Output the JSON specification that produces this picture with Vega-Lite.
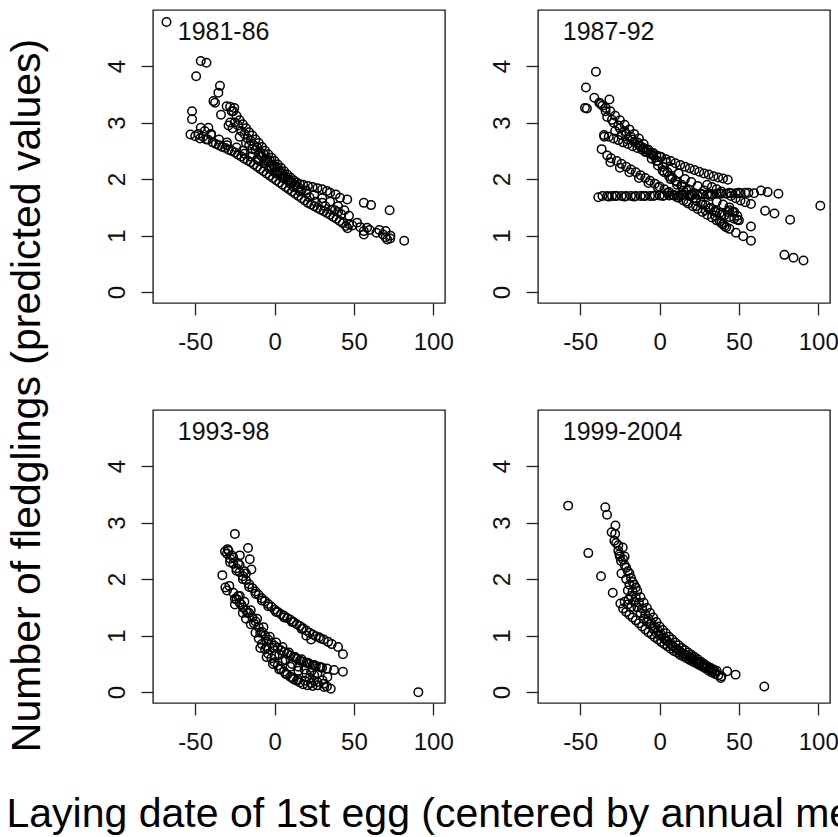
{
 "$schema": "https://vega.github.io/schema/vega-lite/v6.json",
 "background": "white",
 "padding": {"left": 5, "top": 9, "right": 0, "bottom": 0},
 "autosize": {"type": "pad"},
 "bounds": "flush",
 "columns": 2,
 "spacing": {"row": 107, "column": 93},
 "config": {
  "font": "Liberation Sans",
  "view": {"stroke": "#222", "strokeWidth": 1.4},
  "axis": {"domain": false, "grid": false, "ticks": true, "tickSize": 12, "tickColor": "#222", "tickWidth": 1.3,
   "labelFont": "Liberation Sans", "labelFontSize": 24, "labelColor": "#111", "labelOverlap": false, "labelFlush": false,
   "titleFont": "Liberation Sans", "titleFontWeight": "normal", "titleColor": "#000", "titleFontSize": 41, "titleLimit": 3000},
  "axisX": {"labelAngle": 0, "labelAlign": "center", "labelBaseline": "top", "labelPadding": 15},
  "axisY": {"labelAngle": 270, "labelAlign": "center", "labelBaseline": "bottom", "labelPadding": 12}
 },
 "datasets": {
  "labs": [
   {"panel": "1981-86", "lx": -61, "ly": 4.6, "label": "1981-86"},
   {"panel": "1987-92", "lx": -61, "ly": 4.6, "label": "1987-92"},
   {"panel": "1993-98", "lx": -61, "ly": 4.6, "label": "1993-98"},
   {"panel": "1999-2004", "lx": -61, "ly": 4.6, "label": "1999-2004"}
  ],
  "pts": [
   {"panel":"1981-86","x":-68.1,"y":4.78},{"panel":"1981-86","x":-49.4,"y":3.82},{"panel":"1981-86","x":-46.5,"y":4.09},{"panel":"1981-86","x":-42.9,"y":4.06},
   {"panel":"1981-86","x":-52,"y":3.2},{"panel":"1981-86","x":-52,"y":3.06},{"panel":"1981-86","x":-53,"y":2.79},{"panel":"1981-86","x":-50,"y":2.76},
   {"panel":"1981-86","x":-46.5,"y":2.91},{"panel":"1981-86","x":-41.7,"y":2.91},{"panel":"1981-86","x":-44,"y":2.85},{"panel":"1981-86","x":-40,"y":2.8},
   {"panel":"1981-86","x":-47,"y":2.72},{"panel":"1981-86","x":-43,"y":2.7},{"panel":"1981-86","x":-34.4,"y":3.65},{"panel":"1981-86","x":-35.4,"y":3.53},
   {"panel":"1981-86","x":-38.5,"y":3.38},{"panel":"1981-86","x":-37.5,"y":3.35},{"panel":"1981-86","x":-33.75,"y":3.14},{"panel":"1981-86","x":-30.2,"y":3.29},
   {"panel":"1981-86","x":-25.4,"y":3.26},{"panel":"1981-86","x":-27,"y":3.2},{"panel":"1981-86","x":-28,"y":3.0},{"panel":"1981-86","x":-29,"y":2.95},{"panel":"1981-86","x":-26.5,"y":2.9},
   {"panel":"1981-86","x":-48,"y":2.8},{"panel":"1981-86","x":-45,"y":2.75},{"panel":"1981-86","x":-42,"y":2.7},{"panel":"1981-86","x":-39,"y":2.65},{"panel":"1981-86","x":-37,"y":2.62},
   {"panel":"1981-86","x":-35,"y":2.6},{"panel":"1981-86","x":-33,"y":2.57},{"panel":"1981-86","x":-31,"y":2.55},{"panel":"1981-86","x":-29,"y":2.52},{"panel":"1981-86","x":-27,"y":2.5},
   {"panel":"1981-86","x":-25,"y":2.47},{"panel":"1981-86","x":-23,"y":2.43},{"panel":"1981-86","x":-21,"y":2.4},{"panel":"1981-86","x":-19,"y":2.36},{"panel":"1981-86","x":-17,"y":2.33},
   {"panel":"1981-86","x":-15,"y":2.3},{"panel":"1981-86","x":-13,"y":2.26},{"panel":"1981-86","x":-11,"y":2.22},{"panel":"1981-86","x":-9,"y":2.18},{"panel":"1981-86","x":-7,"y":2.14},
   {"panel":"1981-86","x":-5,"y":2.1},{"panel":"1981-86","x":-3,"y":2.06},{"panel":"1981-86","x":-1,"y":2.02},{"panel":"1981-86","x":1,"y":1.98},{"panel":"1981-86","x":3,"y":1.94},
   {"panel":"1981-86","x":5,"y":1.9},{"panel":"1981-86","x":7,"y":1.86},{"panel":"1981-86","x":9,"y":1.82},{"panel":"1981-86","x":11,"y":1.78},{"panel":"1981-86","x":13,"y":1.74},
   {"panel":"1981-86","x":15,"y":1.7},{"panel":"1981-86","x":17,"y":1.66},{"panel":"1981-86","x":19,"y":1.62},{"panel":"1981-86","x":21,"y":1.58},{"panel":"1981-86","x":23,"y":1.55},
   {"panel":"1981-86","x":25,"y":1.52},{"panel":"1981-86","x":27,"y":1.49},{"panel":"1981-86","x":29,"y":1.46},{"panel":"1981-86","x":31,"y":1.43},{"panel":"1981-86","x":33,"y":1.4},
   {"panel":"1981-86","x":35,"y":1.37},{"panel":"1981-86","x":37,"y":1.33},{"panel":"1981-86","x":39,"y":1.3},{"panel":"1981-86","x":41,"y":1.26},{"panel":"1981-86","x":43,"y":1.22},
   {"panel":"1981-86","x":45,"y":1.17},{"panel":"1981-86","x":46,"y":1.13},
   {"panel":"1981-86","x":-40,"y":2.78},{"panel":"1981-86","x":-30,"y":2.65},{"panel":"1981-86","x":-20,"y":2.5},{"panel":"1981-86","x":-10,"y":2.33},{"panel":"1981-86","x":0,"y":2.12},
   {"panel":"1981-86","x":10,"y":1.95},{"panel":"1981-86","x":20,"y":1.75},{"panel":"1981-86","x":30,"y":1.58},{"panel":"1981-86","x":40,"y":1.42},
   {"panel":"1981-86","x":-28,"y":3.28},{"panel":"1981-86","x":-26,"y":3.2},{"panel":"1981-86","x":-24,"y":3.12},{"panel":"1981-86","x":-22,"y":3.04},{"panel":"1981-86","x":-20,"y":2.97},
   {"panel":"1981-86","x":-18,"y":2.9},{"panel":"1981-86","x":-16,"y":2.83},{"panel":"1981-86","x":-14,"y":2.77},{"panel":"1981-86","x":-12,"y":2.7},{"panel":"1981-86","x":-10,"y":2.64},
   {"panel":"1981-86","x":-8,"y":2.57},{"panel":"1981-86","x":-6,"y":2.5},{"panel":"1981-86","x":-4,"y":2.44},{"panel":"1981-86","x":-2,"y":2.38},{"panel":"1981-86","x":0,"y":2.32},
   {"panel":"1981-86","x":2,"y":2.26},{"panel":"1981-86","x":4,"y":2.2},{"panel":"1981-86","x":6,"y":2.14},{"panel":"1981-86","x":8,"y":2.08},{"panel":"1981-86","x":10,"y":2.03},
   {"panel":"1981-86","x":12,"y":1.98},{"panel":"1981-86","x":14,"y":1.94},{"panel":"1981-86","x":16,"y":1.91},
   {"panel":"1981-86","x":-25,"y":3.0},{"panel":"1981-86","x":-21,"y":2.85},{"panel":"1981-86","x":-17,"y":2.72},{"panel":"1981-86","x":-13,"y":2.6},{"panel":"1981-86","x":-9,"y":2.47},
   {"panel":"1981-86","x":-5,"y":2.36},{"panel":"1981-86","x":-1,"y":2.25},{"panel":"1981-86","x":3,"y":2.14},{"panel":"1981-86","x":7,"y":2.04},{"panel":"1981-86","x":11,"y":1.94},{"panel":"1981-86","x":15,"y":1.86},
   {"panel":"1981-86","x":-22,"y":2.75},{"panel":"1981-86","x":-18,"y":2.64},{"panel":"1981-86","x":-14,"y":2.53},{"panel":"1981-86","x":-10,"y":2.44},{"panel":"1981-86","x":-6,"y":2.33},
   {"panel":"1981-86","x":-2,"y":2.22},{"panel":"1981-86","x":2,"y":2.12},{"panel":"1981-86","x":6,"y":2.02},{"panel":"1981-86","x":10,"y":1.92},
   {"panel":"1981-86","x":-19,"y":2.45},{"panel":"1981-86","x":-15,"y":2.4},{"panel":"1981-86","x":-11,"y":2.35},{"panel":"1981-86","x":-7,"y":2.28},{"panel":"1981-86","x":-3,"y":2.18},
   {"panel":"1981-86","x":1,"y":2.1},{"panel":"1981-86","x":5,"y":2.02},{"panel":"1981-86","x":9,"y":1.96},{"panel":"1981-86","x":13,"y":1.88},{"panel":"1981-86","x":17,"y":1.8},
   {"panel":"1981-86","x":-16,"y":2.6},{"panel":"1981-86","x":-12,"y":2.52},{"panel":"1981-86","x":-8,"y":2.4},{"panel":"1981-86","x":-4,"y":2.3},{"panel":"1981-86","x":0,"y":2.2},
   {"panel":"1981-86","x":4,"y":2.1},{"panel":"1981-86","x":8,"y":1.98},{"panel":"1981-86","x":12,"y":1.86},{"panel":"1981-86","x":16,"y":1.78},{"panel":"1981-86","x":-30,"y":2.6},
   {"panel":"1981-86","x":-35,"y":2.7},{"panel":"1981-86","x":-24,"y":2.56},{"panel":"1981-86","x":22,"y":1.68},{"panel":"1981-86","x":26,"y":1.6},{"panel":"1981-86","x":32,"y":1.52},
   {"panel":"1981-86","x":36,"y":1.46},{"panel":"1981-86","x":-19,"y":2.8},{"panel":"1981-86","x":-23,"y":2.95},{"panel":"1981-86","x":-15,"y":2.68},{"panel":"1981-86","x":-11,"y":2.56},
   {"panel":"1981-86","x":-7,"y":2.45},{"panel":"1981-86","x":-3,"y":2.33},{"panel":"1981-86","x":1,"y":2.22},{"panel":"1981-86","x":5,"y":2.1},{"panel":"1981-86","x":9,"y":1.99},{"panel":"1981-86","x":13,"y":1.9},
   {"panel":"1981-86","x":18,"y":1.9},{"panel":"1981-86","x":21,"y":1.88},{"panel":"1981-86","x":24,"y":1.86},{"panel":"1981-86","x":27,"y":1.84},{"panel":"1981-86","x":30,"y":1.82},
   {"panel":"1981-86","x":33,"y":1.79},{"panel":"1981-86","x":35,"y":1.76},{"panel":"1981-86","x":38.5,"y":1.73},{"panel":"1981-86","x":41.25,"y":1.67},{"panel":"1981-86","x":45.8,"y":1.64},
   {"panel":"1981-86","x":56.25,"y":1.58},{"panel":"1981-86","x":60.8,"y":1.54},{"panel":"1981-86","x":72.5,"y":1.45},
   {"panel":"1981-86","x":20,"y":1.8},{"panel":"1981-86","x":25,"y":1.72},{"panel":"1981-86","x":30,"y":1.66},{"panel":"1981-86","x":35,"y":1.6},{"panel":"1981-86","x":40,"y":1.52},
   {"panel":"1981-86","x":44,"y":1.45},{"panel":"1981-86","x":38,"y":1.45},{"panel":"1981-86","x":46.9,"y":1.35},{"panel":"1981-86","x":42,"y":1.38},
   {"panel":"1981-86","x":47,"y":1.2},{"panel":"1981-86","x":49,"y":1.18},{"panel":"1981-86","x":52,"y":1.23},{"panel":"1981-86","x":54,"y":1.15},{"panel":"1981-86","x":56.25,"y":1.08},
   {"panel":"1981-86","x":56.25,"y":1.02},{"panel":"1981-86","x":58.3,"y":1.14},{"panel":"1981-86","x":60,"y":1.1},{"panel":"1981-86","x":64.2,"y":1.05},{"panel":"1981-86","x":66,"y":1.1},
   {"panel":"1981-86","x":68.3,"y":1.02},{"panel":"1981-86","x":70,"y":1.08},{"panel":"1981-86","x":70,"y":0.97},{"panel":"1981-86","x":71,"y":0.93},{"panel":"1981-86","x":72.9,"y":0.95},
   {"panel":"1981-86","x":73,"y":1.0},{"panel":"1981-86","x":81.7,"y":0.91},

   {"panel":"1987-92","x":-40.1,"y":3.9},{"panel":"1987-92","x":-46.4,"y":3.62},{"panel":"1987-92","x":-47,"y":3.26},{"panel":"1987-92","x":-45.8,"y":3.25},{"panel":"1987-92","x":-41.1,"y":3.44},
   {"panel":"1987-92","x":-31.6,"y":3.41},{"panel":"1987-92","x":-36.5,"y":2.53},{"panel":"1987-92","x":-38.6,"y":1.68},{"panel":"1987-92","x":-30.6,"y":2.37},{"panel":"1987-92","x":-34.8,"y":2.75},
   {"panel":"1987-92","x":-38,"y":3.35},{"panel":"1987-92","x":-36,"y":3.3},{"panel":"1987-92","x":-34,"y":3.2},
   {"panel":"1987-92","x":-37,"y":3.33},{"panel":"1987-92","x":-34,"y":3.26},{"panel":"1987-92","x":-31,"y":3.2},{"panel":"1987-92","x":-28,"y":3.12},{"panel":"1987-92","x":-25,"y":3.04},
   {"panel":"1987-92","x":-22,"y":2.96},{"panel":"1987-92","x":-19,"y":2.88},{"panel":"1987-92","x":-16,"y":2.8},{"panel":"1987-92","x":-13,"y":2.72},{"panel":"1987-92","x":-10,"y":2.62},
   {"panel":"1987-92","x":-7,"y":2.52},{"panel":"1987-92","x":-4,"y":2.42},{"panel":"1987-92","x":-1,"y":2.32},{"panel":"1987-92","x":2,"y":2.22},{"panel":"1987-92","x":5,"y":2.12},
   {"panel":"1987-92","x":8,"y":2.03},{"panel":"1987-92","x":11,"y":1.95},{"panel":"1987-92","x":14,"y":1.87},{"panel":"1987-92","x":17,"y":1.8},{"panel":"1987-92","x":20,"y":1.73},
   {"panel":"1987-92","x":23,"y":1.66},{"panel":"1987-92","x":26,"y":1.6},{"panel":"1987-92","x":29,"y":1.54},{"panel":"1987-92","x":32,"y":1.49},{"panel":"1987-92","x":35,"y":1.44},
   {"panel":"1987-92","x":38,"y":1.4},{"panel":"1987-92","x":41,"y":1.36},{"panel":"1987-92","x":44,"y":1.33},{"panel":"1987-92","x":47,"y":1.3},{"panel":"1987-92","x":50,"y":1.27},
   {"panel":"1987-92","x":-33,"y":3.1},{"panel":"1987-92","x":-29,"y":3.0},{"panel":"1987-92","x":-25,"y":2.9},{"panel":"1987-92","x":-21,"y":2.8},{"panel":"1987-92","x":-17,"y":2.7},
   {"panel":"1987-92","x":-13,"y":2.6},{"panel":"1987-92","x":-9,"y":2.48},{"panel":"1987-92","x":-5,"y":2.36},{"panel":"1987-92","x":-1,"y":2.24},{"panel":"1987-92","x":3,"y":2.12},
   {"panel":"1987-92","x":7,"y":2.0},{"panel":"1987-92","x":11,"y":1.9},{"panel":"1987-92","x":15,"y":1.8},{"panel":"1987-92","x":19,"y":1.7},{"panel":"1987-92","x":23,"y":1.62},
   {"panel":"1987-92","x":27,"y":1.55},{"panel":"1987-92","x":31,"y":1.48},{"panel":"1987-92","x":35,"y":1.42},{"panel":"1987-92","x":39,"y":1.37},{"panel":"1987-92","x":43,"y":1.42},{"panel":"1987-92","x":46,"y":1.42},
   {"panel":"1987-92","x":-35,"y":2.78},{"panel":"1987-92","x":-32,"y":2.75},{"panel":"1987-92","x":-29,"y":2.72},{"panel":"1987-92","x":-26,"y":2.69},{"panel":"1987-92","x":-23,"y":2.65},
   {"panel":"1987-92","x":-20,"y":2.62},{"panel":"1987-92","x":-17,"y":2.58},{"panel":"1987-92","x":-14,"y":2.55},{"panel":"1987-92","x":-11,"y":2.52},{"panel":"1987-92","x":-8,"y":2.48},
   {"panel":"1987-92","x":-5,"y":2.45},{"panel":"1987-92","x":-2,"y":2.42},{"panel":"1987-92","x":1,"y":2.39},{"panel":"1987-92","x":4,"y":2.35},{"panel":"1987-92","x":7,"y":2.32},
   {"panel":"1987-92","x":10,"y":2.28},{"panel":"1987-92","x":13,"y":2.25},{"panel":"1987-92","x":16,"y":2.22},{"panel":"1987-92","x":19,"y":2.19},{"panel":"1987-92","x":22,"y":2.16},
   {"panel":"1987-92","x":25,"y":2.13},{"panel":"1987-92","x":28,"y":2.1},{"panel":"1987-92","x":31,"y":2.08},{"panel":"1987-92","x":34,"y":2.05},{"panel":"1987-92","x":37,"y":2.03},
   {"panel":"1987-92","x":40,"y":2.01},{"panel":"1987-92","x":43,"y":1.99},
   {"panel":"1987-92","x":-33,"y":2.42},{"panel":"1987-92","x":-27,"y":2.32},{"panel":"1987-92","x":-24,"y":2.27},{"panel":"1987-92","x":-21,"y":2.22},{"panel":"1987-92","x":-18,"y":2.17},
   {"panel":"1987-92","x":-15,"y":2.12},{"panel":"1987-92","x":-12,"y":2.07},{"panel":"1987-92","x":-9,"y":2.02},{"panel":"1987-92","x":-6,"y":1.97},{"panel":"1987-92","x":-3,"y":1.92},
   {"panel":"1987-92","x":0,"y":1.87},{"panel":"1987-92","x":3,"y":1.82},{"panel":"1987-92","x":6,"y":1.77},{"panel":"1987-92","x":9,"y":1.72},{"panel":"1987-92","x":12,"y":1.67},
   {"panel":"1987-92","x":15,"y":1.62},{"panel":"1987-92","x":18,"y":1.57},{"panel":"1987-92","x":21,"y":1.52},{"panel":"1987-92","x":24,"y":1.47},{"panel":"1987-92","x":27,"y":1.42},
   {"panel":"1987-92","x":30,"y":1.37},{"panel":"1987-92","x":33,"y":1.32},{"panel":"1987-92","x":36,"y":1.27},{"panel":"1987-92","x":39,"y":1.22},{"panel":"1987-92","x":41,"y":1.17},
   {"panel":"1987-92","x":44,"y":1.12},{"panel":"1987-92","x":48.1,"y":1.05},{"panel":"1987-92","x":52.7,"y":0.99},{"panel":"1987-92","x":57.6,"y":0.91},
   {"panel":"1987-92","x":-33,"y":1.7},{"panel":"1987-92","x":-30,"y":1.7},{"panel":"1987-92","x":-27,"y":1.7},{"panel":"1987-92","x":-24,"y":1.7},{"panel":"1987-92","x":-21,"y":1.7},
   {"panel":"1987-92","x":-18,"y":1.7},{"panel":"1987-92","x":-15,"y":1.7},{"panel":"1987-92","x":-12,"y":1.7},{"panel":"1987-92","x":-9,"y":1.7},{"panel":"1987-92","x":-6,"y":1.7},
   {"panel":"1987-92","x":-3,"y":1.71},{"panel":"1987-92","x":0,"y":1.71},{"panel":"1987-92","x":3,"y":1.71},{"panel":"1987-92","x":6,"y":1.71},{"panel":"1987-92","x":9,"y":1.71},
   {"panel":"1987-92","x":12,"y":1.71},{"panel":"1987-92","x":15,"y":1.72},{"panel":"1987-92","x":18,"y":1.72},{"panel":"1987-92","x":21,"y":1.72},{"panel":"1987-92","x":24,"y":1.72},
   {"panel":"1987-92","x":27,"y":1.73},{"panel":"1987-92","x":30,"y":1.73},{"panel":"1987-92","x":33,"y":1.73},{"panel":"1987-92","x":36,"y":1.74},{"panel":"1987-92","x":39,"y":1.74},
   {"panel":"1987-92","x":42,"y":1.74},{"panel":"1987-92","x":45,"y":1.75},{"panel":"1987-92","x":48,"y":1.75},{"panel":"1987-92","x":51,"y":1.75},{"panel":"1987-92","x":54,"y":1.76},{"panel":"1987-92","x":56,"y":1.76},
   {"panel":"1987-92","x":-36,"y":1.7},{"panel":"1987-92","x":-32,"y":1.69},{"panel":"1987-92","x":-28,"y":1.7},{"panel":"1987-92","x":-22,"y":1.69},{"panel":"1987-92","x":-16,"y":1.69},
   {"panel":"1987-92","x":-10,"y":1.7},{"panel":"1987-92","x":-4,"y":1.7},{"panel":"1987-92","x":2,"y":1.7},{"panel":"1987-92","x":8,"y":1.72},{"panel":"1987-92","x":14,"y":1.72},
   {"panel":"1987-92","x":20,"y":1.73},{"panel":"1987-92","x":26,"y":1.74},{"panel":"1987-92","x":32,"y":1.74},{"panel":"1987-92","x":38,"y":1.75},{"panel":"1987-92","x":44,"y":1.76},{"panel":"1987-92","x":50,"y":1.76},
   {"panel":"1987-92","x":-30,"y":3.05},{"panel":"1987-92","x":-26,"y":2.95},{"panel":"1987-92","x":-22,"y":2.85},{"panel":"1987-92","x":-18,"y":2.75},{"panel":"1987-92","x":-14,"y":2.65},
   {"panel":"1987-92","x":-10,"y":2.55},{"panel":"1987-92","x":-6,"y":2.45},{"panel":"1987-92","x":-2,"y":2.32},{"panel":"1987-92","x":2,"y":2.15},{"panel":"1987-92","x":6,"y":2.05},
   {"panel":"1987-92","x":10,"y":1.97},{"panel":"1987-92","x":14,"y":1.9},{"panel":"1987-92","x":18,"y":1.82},{"panel":"1987-92","x":22,"y":1.75},
   {"panel":"1987-92","x":-28,"y":2.85},{"panel":"1987-92","x":-24,"y":2.78},{"panel":"1987-92","x":-20,"y":2.7},{"panel":"1987-92","x":-16,"y":2.66},{"panel":"1987-92","x":-12,"y":2.58},
   {"panel":"1987-92","x":-8,"y":2.52},{"panel":"1987-92","x":-4,"y":2.46},{"panel":"1987-92","x":0,"y":2.4},{"panel":"1987-92","x":4,"y":2.3},{"panel":"1987-92","x":8,"y":2.2},
   {"panel":"1987-92","x":12,"y":2.1},{"panel":"1987-92","x":16,"y":2.0},{"panel":"1987-92","x":20,"y":1.95},{"panel":"1987-92","x":24,"y":1.88},{"panel":"1987-92","x":28,"y":1.8},
   {"panel":"1987-92","x":32,"y":1.7},{"panel":"1987-92","x":36,"y":1.6},{"panel":"1987-92","x":40,"y":1.55},{"panel":"1987-92","x":44,"y":1.5},
   {"panel":"1987-92","x":-31,"y":2.3},{"panel":"1987-92","x":-25,"y":2.2},{"panel":"1987-92","x":-19,"y":2.12},{"panel":"1987-92","x":-13,"y":2.02},{"panel":"1987-92","x":-7,"y":1.93},
   {"panel":"1987-92","x":-1,"y":1.85},{"panel":"1987-92","x":5,"y":1.76},{"panel":"1987-92","x":11,"y":1.68},{"panel":"1987-92","x":17,"y":1.6},{"panel":"1987-92","x":23,"y":1.52},
   {"panel":"1987-92","x":29,"y":1.45},{"panel":"1987-92","x":35,"y":1.35},
   {"panel":"1987-92","x":30,"y":1.9},{"panel":"1987-92","x":33,"y":1.86},{"panel":"1987-92","x":36,"y":1.82},{"panel":"1987-92","x":39,"y":1.78},{"panel":"1987-92","x":45,"y":1.7},
   {"panel":"1987-92","x":48,"y":1.66},{"panel":"1987-92","x":51,"y":1.62},{"panel":"1987-92","x":54,"y":1.59},{"panel":"1987-92","x":57.6,"y":1.56},{"panel":"1987-92","x":57.6,"y":1.16},
   {"panel":"1987-92","x":63.9,"y":1.8},{"panel":"1987-92","x":68.1,"y":1.77},{"panel":"1987-92","x":74.9,"y":1.74},{"panel":"1987-92","x":66.5,"y":1.44},{"panel":"1987-92","x":72.4,"y":1.39},
   {"panel":"1987-92","x":82.3,"y":1.28},{"panel":"1987-92","x":78.7,"y":0.66},{"panel":"1987-92","x":84.4,"y":0.61},{"panel":"1987-92","x":90.7,"y":0.56},{"panel":"1987-92","x":101.3,"y":1.53},
   {"panel":"1987-92","x":59.5,"y":1.75},{"panel":"1987-92","x":44,"y":1.45},{"panel":"1987-92","x":47,"y":1.42},{"panel":"1987-92","x":49,"y":1.35},{"panel":"1987-92","x":49,"y":1.28},
   {"panel":"1987-92","x":40,"y":1.2},{"panel":"1987-92","x":42,"y":1.15},{"panel":"1987-92","x":38,"y":1.25},

   {"panel":"1993-98","x":-25,"y":2.8},{"panel":"1993-98","x":-32.9,"y":2.07},{"panel":"1993-98","x":-29.6,"y":2.53},{"panel":"1993-98","x":-31.25,"y":2.49},{"panel":"1993-98","x":-16.7,"y":2.55},
   {"panel":"1993-98","x":-15.6,"y":2.35},{"panel":"1993-98","x":-14.6,"y":2.17},{"panel":"1993-98","x":-21.9,"y":2.42},{"panel":"1993-98","x":90.6,"y":0.0},
   {"panel":"1993-98","x":-30,"y":2.45},{"panel":"1993-98","x":-28,"y":2.36},{"panel":"1993-98","x":-26,"y":2.27},{"panel":"1993-98","x":-24,"y":2.19},{"panel":"1993-98","x":-22,"y":2.12},
   {"panel":"1993-98","x":-20,"y":2.05},{"panel":"1993-98","x":-18,"y":1.98},{"panel":"1993-98","x":-16,"y":1.91},{"panel":"1993-98","x":-14,"y":1.84},{"panel":"1993-98","x":-12,"y":1.78},
   {"panel":"1993-98","x":-10,"y":1.72},{"panel":"1993-98","x":-8,"y":1.66},{"panel":"1993-98","x":-6,"y":1.61},{"panel":"1993-98","x":-4,"y":1.56},{"panel":"1993-98","x":-2,"y":1.51},
   {"panel":"1993-98","x":0,"y":1.46},{"panel":"1993-98","x":2,"y":1.42},{"panel":"1993-98","x":4,"y":1.38},{"panel":"1993-98","x":6,"y":1.35},{"panel":"1993-98","x":8,"y":1.31},
   {"panel":"1993-98","x":10,"y":1.28},{"panel":"1993-98","x":12,"y":1.24},{"panel":"1993-98","x":14,"y":1.2},{"panel":"1993-98","x":16,"y":1.17},{"panel":"1993-98","x":18,"y":1.13},
   {"panel":"1993-98","x":20,"y":1.09},{"panel":"1993-98","x":22,"y":1.05},{"panel":"1993-98","x":24,"y":1.02},{"panel":"1993-98","x":26,"y":0.99},{"panel":"1993-98","x":28,"y":0.97},
   {"panel":"1993-98","x":31,"y":0.93},{"panel":"1993-98","x":33.75,"y":0.89},{"panel":"1993-98","x":36,"y":0.85},{"panel":"1993-98","x":40,"y":0.8},{"panel":"1993-98","x":43.1,"y":0.67},
   {"panel":"1993-98","x":29,"y":0.95},{"panel":"1993-98","x":23,"y":0.93},{"panel":"1993-98","x":20,"y":1.0},{"panel":"1993-98","x":-27,"y":2.42},{"panel":"1993-98","x":-23,"y":2.28},{"panel":"1993-98","x":-19,"y":2.14},
   {"panel":"1993-98","x":-28,"y":2.3},{"panel":"1993-98","x":-24,"y":2.15},{"panel":"1993-98","x":-20,"y":2.0},{"panel":"1993-98","x":-16,"y":1.86},{"panel":"1993-98","x":-12,"y":1.74},
   {"panel":"1993-98","x":-8,"y":1.62},{"panel":"1993-98","x":-4,"y":1.52},{"panel":"1993-98","x":1,"y":1.42},{"panel":"1993-98","x":6,"y":1.32},{"panel":"1993-98","x":11,"y":1.24},{"panel":"1993-98","x":17,"y":1.12},
   {"panel":"1993-98","x":-29,"y":2.5},{"panel":"1993-98","x":-26,"y":2.38},{"panel":"1993-98","x":-22,"y":2.25},{"panel":"1993-98","x":-18,"y":2.1},
   {"panel":"1993-98","x":-28.5,"y":1.88},{"panel":"1993-98","x":-26,"y":1.76},{"panel":"1993-98","x":-21.9,"y":1.7},{"panel":"1993-98","x":-24,"y":1.65},{"panel":"1993-98","x":-22,"y":1.58},
   {"panel":"1993-98","x":-20,"y":1.5},{"panel":"1993-98","x":-18,"y":1.45},{"panel":"1993-98","x":-16,"y":1.4},{"panel":"1993-98","x":-14,"y":1.32},{"panel":"1993-98","x":-12,"y":1.25},
   {"panel":"1993-98","x":-10,"y":1.15},{"panel":"1993-98","x":-8,"y":1.07},{"panel":"1993-98","x":-6,"y":1.0},{"panel":"1993-98","x":-4,"y":0.93},{"panel":"1993-98","x":-2,"y":0.87},
   {"panel":"1993-98","x":0,"y":0.82},{"panel":"1993-98","x":2,"y":0.78},{"panel":"1993-98","x":4,"y":0.74},{"panel":"1993-98","x":6,"y":0.71},{"panel":"1993-98","x":8,"y":0.68},
   {"panel":"1993-98","x":10,"y":0.65},{"panel":"1993-98","x":12,"y":0.62},{"panel":"1993-98","x":14,"y":0.59},{"panel":"1993-98","x":16,"y":0.56},{"panel":"1993-98","x":18,"y":0.54},
   {"panel":"1993-98","x":20,"y":0.52},{"panel":"1993-98","x":22,"y":0.5},{"panel":"1993-98","x":24,"y":0.48},{"panel":"1993-98","x":26,"y":0.46},{"panel":"1993-98","x":28,"y":0.45},
   {"panel":"1993-98","x":30,"y":0.43},{"panel":"1993-98","x":33,"y":0.42},{"panel":"1993-98","x":37.5,"y":0.39},{"panel":"1993-98","x":43.1,"y":0.36},
   {"panel":"1993-98","x":-12,"y":1.05},{"panel":"1993-98","x":-10,"y":0.95},{"panel":"1993-98","x":-8,"y":0.85},{"panel":"1993-98","x":-6,"y":0.76},{"panel":"1993-98","x":-4,"y":0.68},
   {"panel":"1993-98","x":-2,"y":0.6},{"panel":"1993-98","x":0,"y":0.53},{"panel":"1993-98","x":2,"y":0.47},{"panel":"1993-98","x":4,"y":0.41},{"panel":"1993-98","x":6,"y":0.36},
   {"panel":"1993-98","x":8,"y":0.31},{"panel":"1993-98","x":10,"y":0.27},{"panel":"1993-98","x":12,"y":0.23},{"panel":"1993-98","x":14,"y":0.2},{"panel":"1993-98","x":16,"y":0.17},
   {"panel":"1993-98","x":18,"y":0.14},{"panel":"1993-98","x":20.8,"y":0.12},{"panel":"1993-98","x":24,"y":0.11},{"panel":"1993-98","x":27,"y":0.12},{"panel":"1993-98","x":31.25,"y":0.09},
   {"panel":"1993-98","x":35.4,"y":0.06},{"panel":"1993-98","x":30.2,"y":0.21},{"panel":"1993-98","x":33.3,"y":0.27},{"panel":"1993-98","x":25,"y":0.2},{"panel":"1993-98","x":22,"y":0.25},
   {"panel":"1993-98","x":0,"y":0.65},{"panel":"1993-98","x":5,"y":0.55},{"panel":"1993-98","x":10,"y":0.45},{"panel":"1993-98","x":15,"y":0.38},{"panel":"1993-98","x":20,"y":0.33},
   {"panel":"1993-98","x":25,"y":0.3},{"panel":"1993-98","x":-5,"y":0.8},{"panel":"1993-98","x":-15,"y":1.2},{"panel":"1993-98","x":-18,"y":1.3},{"panel":"1993-98","x":-20,"y":1.4},
   {"panel":"1993-98","x":-25,"y":1.55},{"panel":"1993-98","x":-30,"y":1.8},{"panel":"1993-98","x":-31,"y":1.85},
   {"panel":"1993-98","x":-25,"y":1.65},{"panel":"1993-98","x":-21,"y":1.55},{"panel":"1993-98","x":-17,"y":1.4},{"panel":"1993-98","x":-13,"y":1.22},{"panel":"1993-98","x":-9,"y":1.05},
   {"panel":"1993-98","x":-5,"y":0.9},{"panel":"1993-98","x":-1,"y":0.78},{"panel":"1993-98","x":3,"y":0.66},{"panel":"1993-98","x":7,"y":0.57},{"panel":"1993-98","x":11,"y":0.5},
   {"panel":"1993-98","x":15,"y":0.45},{"panel":"1993-98","x":19,"y":0.4},{"panel":"1993-98","x":23,"y":0.36},{"panel":"1993-98","x":27,"y":0.33},
   {"panel":"1993-98","x":-23,"y":1.7},{"panel":"1993-98","x":-19,"y":1.6},{"panel":"1993-98","x":-15,"y":1.45},{"panel":"1993-98","x":-11,"y":1.3},{"panel":"1993-98","x":-7,"y":1.15},
   {"panel":"1993-98","x":-3,"y":0.98},{"panel":"1993-98","x":1,"y":0.88},{"panel":"1993-98","x":5,"y":0.8},{"panel":"1993-98","x":9,"y":0.7},{"panel":"1993-98","x":13,"y":0.62},
   {"panel":"1993-98","x":17,"y":0.58},{"panel":"1993-98","x":21,"y":0.52},{"panel":"1993-98","x":25,"y":0.48},{"panel":"1993-98","x":29,"y":0.44},
   {"panel":"1993-98","x":-9,"y":0.78},{"panel":"1993-98","x":-5,"y":0.62},{"panel":"1993-98","x":-1,"y":0.5},{"panel":"1993-98","x":3,"y":0.4},{"panel":"1993-98","x":7,"y":0.32},
   {"panel":"1993-98","x":11,"y":0.26},{"panel":"1993-98","x":15,"y":0.22},{"panel":"1993-98","x":19,"y":0.2},{"panel":"1993-98","x":23,"y":0.16},{"panel":"1993-98","x":27,"y":0.18},
   {"panel":"1993-98","x":31,"y":0.15},{"panel":"1993-98","x":33,"y":0.1},

   {"panel":"1999-2004","x":-57.6,"y":3.3},{"panel":"1999-2004","x":-44.9,"y":2.46},{"panel":"1999-2004","x":-36.9,"y":2.05},{"panel":"1999-2004","x":-29.5,"y":1.76},{"panel":"1999-2004","x":-24.7,"y":1.57},
   {"panel":"1999-2004","x":-19.6,"y":1.64},{"panel":"1999-2004","x":-34.2,"y":3.27},{"panel":"1999-2004","x":-33.1,"y":3.14},{"panel":"1999-2004","x":-30.2,"y":2.83},{"panel":"1999-2004","x":-27.8,"y":2.95},
   {"panel":"1999-2004","x":-28.5,"y":2.68},{"panel":"1999-2004","x":-27.4,"y":2.64},{"panel":"1999-2004","x":-23.2,"y":2.56},{"panel":"1999-2004","x":-25.3,"y":2.44},{"panel":"1999-2004","x":-24.3,"y":2.32},
   {"panel":"1999-2004","x":66,"y":0.1},{"panel":"1999-2004","x":47.9,"y":0.31},{"panel":"1999-2004","x":42.6,"y":0.37},{"panel":"1999-2004","x":38.6,"y":0.25},
   {"panel":"1999-2004","x":-22,"y":2.25},{"panel":"1999-2004","x":-20,"y":2.14},{"panel":"1999-2004","x":-18,"y":2.02},{"panel":"1999-2004","x":-16,"y":1.9},{"panel":"1999-2004","x":-14,"y":1.79},
   {"panel":"1999-2004","x":-12,"y":1.68},{"panel":"1999-2004","x":-10,"y":1.58},{"panel":"1999-2004","x":-8,"y":1.49},{"panel":"1999-2004","x":-6,"y":1.4},{"panel":"1999-2004","x":-4,"y":1.32},
   {"panel":"1999-2004","x":-2,"y":1.24},{"panel":"1999-2004","x":0,"y":1.16},{"panel":"1999-2004","x":2,"y":1.1},{"panel":"1999-2004","x":4,"y":1.04},{"panel":"1999-2004","x":6,"y":0.98},
   {"panel":"1999-2004","x":8,"y":0.93},{"panel":"1999-2004","x":10,"y":0.88},{"panel":"1999-2004","x":12,"y":0.83},{"panel":"1999-2004","x":14,"y":0.78},{"panel":"1999-2004","x":16,"y":0.74},
   {"panel":"1999-2004","x":18,"y":0.7},{"panel":"1999-2004","x":20,"y":0.66},{"panel":"1999-2004","x":22,"y":0.62},{"panel":"1999-2004","x":24,"y":0.58},{"panel":"1999-2004","x":26,"y":0.54},
   {"panel":"1999-2004","x":28,"y":0.5},{"panel":"1999-2004","x":30,"y":0.46},{"panel":"1999-2004","x":32,"y":0.43},{"panel":"1999-2004","x":34,"y":0.4},{"panel":"1999-2004","x":36,"y":0.38},
   {"panel":"1999-2004","x":-23,"y":1.48},{"panel":"1999-2004","x":-21,"y":1.42},{"panel":"1999-2004","x":-19,"y":1.37},{"panel":"1999-2004","x":-17,"y":1.32},{"panel":"1999-2004","x":-15,"y":1.27},
   {"panel":"1999-2004","x":-13,"y":1.22},{"panel":"1999-2004","x":-11,"y":1.16},{"panel":"1999-2004","x":-9,"y":1.11},{"panel":"1999-2004","x":-7,"y":1.06},{"panel":"1999-2004","x":-5,"y":1.02},
   {"panel":"1999-2004","x":-3,"y":0.97},{"panel":"1999-2004","x":-1,"y":0.93},{"panel":"1999-2004","x":1,"y":0.89},{"panel":"1999-2004","x":3,"y":0.85},{"panel":"1999-2004","x":5,"y":0.81},
   {"panel":"1999-2004","x":7,"y":0.77},{"panel":"1999-2004","x":9,"y":0.73},{"panel":"1999-2004","x":11,"y":0.7},{"panel":"1999-2004","x":13,"y":0.66},{"panel":"1999-2004","x":15,"y":0.63},
   {"panel":"1999-2004","x":17,"y":0.6},{"panel":"1999-2004","x":19,"y":0.57},{"panel":"1999-2004","x":21,"y":0.54},{"panel":"1999-2004","x":23,"y":0.51},{"panel":"1999-2004","x":25,"y":0.48},
   {"panel":"1999-2004","x":27,"y":0.45},{"panel":"1999-2004","x":29,"y":0.42},{"panel":"1999-2004","x":31,"y":0.38},{"panel":"1999-2004","x":33,"y":0.35},{"panel":"1999-2004","x":35,"y":0.32},
   {"panel":"1999-2004","x":37,"y":0.3},{"panel":"1999-2004","x":39,"y":0.28},
   {"panel":"1999-2004","x":-20,"y":1.8},{"panel":"1999-2004","x":-18,"y":1.7},{"panel":"1999-2004","x":-16,"y":1.6},{"panel":"1999-2004","x":-14,"y":1.5},{"panel":"1999-2004","x":-12,"y":1.4},
   {"panel":"1999-2004","x":-10,"y":1.3},{"panel":"1999-2004","x":-8,"y":1.25},{"panel":"1999-2004","x":-6,"y":1.2},{"panel":"1999-2004","x":-4,"y":1.12},{"panel":"1999-2004","x":-2,"y":1.05},
   {"panel":"1999-2004","x":0,"y":1.0},{"panel":"1999-2004","x":4,"y":0.92},{"panel":"1999-2004","x":8,"y":0.82},{"panel":"1999-2004","x":12,"y":0.74},{"panel":"1999-2004","x":16,"y":0.66},
   {"panel":"1999-2004","x":20,"y":0.6},{"panel":"1999-2004","x":24,"y":0.53},{"panel":"1999-2004","x":28,"y":0.46},{"panel":"1999-2004","x":32,"y":0.4},
   {"panel":"1999-2004","x":-26,"y":2.5},{"panel":"1999-2004","x":-25,"y":2.4},{"panel":"1999-2004","x":-23,"y":2.35},{"panel":"1999-2004","x":-21,"y":2.2},{"panel":"1999-2004","x":-19,"y":2.1},
   {"panel":"1999-2004","x":-17,"y":1.95},{"panel":"1999-2004","x":-15,"y":1.85},
   {"panel":"1999-2004","x":-21,"y":2.0},{"panel":"1999-2004","x":-19,"y":1.9},{"panel":"1999-2004","x":-17,"y":1.78},{"panel":"1999-2004","x":-15,"y":1.68},{"panel":"1999-2004","x":-13,"y":1.58},
   {"panel":"1999-2004","x":-11,"y":1.48},{"panel":"1999-2004","x":-9,"y":1.38},{"panel":"1999-2004","x":-7,"y":1.3},{"panel":"1999-2004","x":-5,"y":1.22},{"panel":"1999-2004","x":-3,"y":1.15},
   {"panel":"1999-2004","x":-1,"y":1.08},{"panel":"1999-2004","x":1,"y":1.02},{"panel":"1999-2004","x":3,"y":0.96},{"panel":"1999-2004","x":5,"y":0.9},{"panel":"1999-2004","x":7,"y":0.86},
   {"panel":"1999-2004","x":9,"y":0.8},{"panel":"1999-2004","x":11,"y":0.76},{"panel":"1999-2004","x":13,"y":0.72},{"panel":"1999-2004","x":15,"y":0.68},{"panel":"1999-2004","x":17,"y":0.65},
   {"panel":"1999-2004","x":19,"y":0.62},{"panel":"1999-2004","x":21,"y":0.58},{"panel":"1999-2004","x":23,"y":0.55},{"panel":"1999-2004","x":25,"y":0.52},{"panel":"1999-2004","x":27,"y":0.48},
   {"panel":"1999-2004","x":29,"y":0.45},{"panel":"1999-2004","x":31,"y":0.42},{"panel":"1999-2004","x":33,"y":0.4},{"panel":"1999-2004","x":35,"y":0.36},
   {"panel":"1999-2004","x":-22,"y":1.6},{"panel":"1999-2004","x":-20,"y":1.55},{"panel":"1999-2004","x":-18,"y":1.5},{"panel":"1999-2004","x":-24,"y":2.1},{"panel":"1999-2004","x":-22,"y":2.4},
   {"panel":"1999-2004","x":-26,"y":2.6},{"panel":"1999-2004","x":-28,"y":2.8}
  ]
 },
 "concat": [
  {
   "width": 292, "height": 293,
   "layer": [
    {"data": {"name": "pts"}, "transform": [{"filter": {"field": "panel", "equal": "1981-86"}}],
     "mark": {"type": "point", "shape": "circle", "filled": false, "stroke": "#000", "strokeWidth": 1.5, "size": 72, "opacity": 1},
     "encoding": {
      "x": {"field": "x", "type": "quantitative", "scale": {"domain": [-76.6, 107.4], "nice": false, "zero": false}, "axis": {"values": [-50, 0, 50, 100], "labelExpr": "'' + datum.value", "title": null}},
      "y": {"field": "y", "type": "quantitative", "scale": {"domain": [-0.192, 4.992], "nice": false, "zero": false},
            "axis": {"values": [0, 1, 2, 3, 4], "labelExpr": "'' + datum.value", "title": "Number of fledglings (predicted values)", "titleAngle": 270, "titleAlign": "center", "titleBaseline": "alphabetic", "titleX": -114, "titleY": 385}}
     }},
    {"data": {"name": "labs"}, "transform": [{"filter": {"field": "panel", "equal": "1981-86"}}],
     "mark": {"type": "text", "align": "left", "baseline": "middle", "fontSize": 25, "font": "Liberation Sans", "color": "#111"},
     "encoding": {"x": {"field": "lx", "type": "quantitative"}, "y": {"field": "ly", "type": "quantitative"}, "text": {"field": "label"}}}
   ]
  },
  {
   "width": 292, "height": 293,
   "layer": [
    {"data": {"name": "pts"}, "transform": [{"filter": {"field": "panel", "equal": "1987-92"}}],
     "mark": {"type": "point", "shape": "circle", "filled": false, "stroke": "#000", "strokeWidth": 1.5, "size": 72, "opacity": 1},
     "encoding": {
      "x": {"field": "x", "type": "quantitative", "scale": {"domain": [-76.6, 107.4], "nice": false, "zero": false}, "axis": {"values": [-50, 0, 50, 100], "labelExpr": "'' + datum.value", "title": null}},
      "y": {"field": "y", "type": "quantitative", "scale": {"domain": [-0.192, 4.992], "nice": false, "zero": false}, "axis": {"values": [0, 1, 2, 3, 4], "labelExpr": "'' + datum.value", "title": null}}
     }},
    {"data": {"name": "labs"}, "transform": [{"filter": {"field": "panel", "equal": "1987-92"}}],
     "mark": {"type": "text", "align": "left", "baseline": "middle", "fontSize": 25, "font": "Liberation Sans", "color": "#111"},
     "encoding": {"x": {"field": "lx", "type": "quantitative"}, "y": {"field": "ly", "type": "quantitative"}, "text": {"field": "label"}}}
   ]
  },
  {
   "width": 292, "height": 293,
   "layer": [
    {"data": {"name": "pts"}, "transform": [{"filter": {"field": "panel", "equal": "1993-98"}}],
     "mark": {"type": "point", "shape": "circle", "filled": false, "stroke": "#000", "strokeWidth": 1.5, "size": 72, "opacity": 1},
     "encoding": {
      "x": {"field": "x", "type": "quantitative", "scale": {"domain": [-76.6, 107.4], "nice": false, "zero": false},
            "axis": {"values": [-50, 0, 50, 100], "labelExpr": "'' + datum.value", "title": "Laying date of 1st egg (centered by annual mean)", "titleAngle": 0, "titleAlign": "left", "titleBaseline": "alphabetic", "titleX": -147, "titleY": 123}},
      "y": {"field": "y", "type": "quantitative", "scale": {"domain": [-0.192, 4.992], "nice": false, "zero": false}, "axis": {"values": [0, 1, 2, 3, 4], "labelExpr": "'' + datum.value", "title": null}}
     }},
    {"data": {"name": "labs"}, "transform": [{"filter": {"field": "panel", "equal": "1993-98"}}],
     "mark": {"type": "text", "align": "left", "baseline": "middle", "fontSize": 25, "font": "Liberation Sans", "color": "#111"},
     "encoding": {"x": {"field": "lx", "type": "quantitative"}, "y": {"field": "ly", "type": "quantitative"}, "text": {"field": "label"}}}
   ]
  },
  {
   "width": 292, "height": 293,
   "layer": [
    {"data": {"name": "pts"}, "transform": [{"filter": {"field": "panel", "equal": "1999-2004"}}],
     "mark": {"type": "point", "shape": "circle", "filled": false, "stroke": "#000", "strokeWidth": 1.5, "size": 72, "opacity": 1},
     "encoding": {
      "x": {"field": "x", "type": "quantitative", "scale": {"domain": [-76.6, 107.4], "nice": false, "zero": false}, "axis": {"values": [-50, 0, 50, 100], "labelExpr": "'' + datum.value", "title": null}},
      "y": {"field": "y", "type": "quantitative", "scale": {"domain": [-0.192, 4.992], "nice": false, "zero": false}, "axis": {"values": [0, 1, 2, 3, 4], "labelExpr": "'' + datum.value", "title": null}}
     }},
    {"data": {"name": "labs"}, "transform": [{"filter": {"field": "panel", "equal": "1999-2004"}}],
     "mark": {"type": "text", "align": "left", "baseline": "middle", "fontSize": 25, "font": "Liberation Sans", "color": "#111"},
     "encoding": {"x": {"field": "lx", "type": "quantitative"}, "y": {"field": "ly", "type": "quantitative"}, "text": {"field": "label"}}}
   ]
  }
 ]
}
